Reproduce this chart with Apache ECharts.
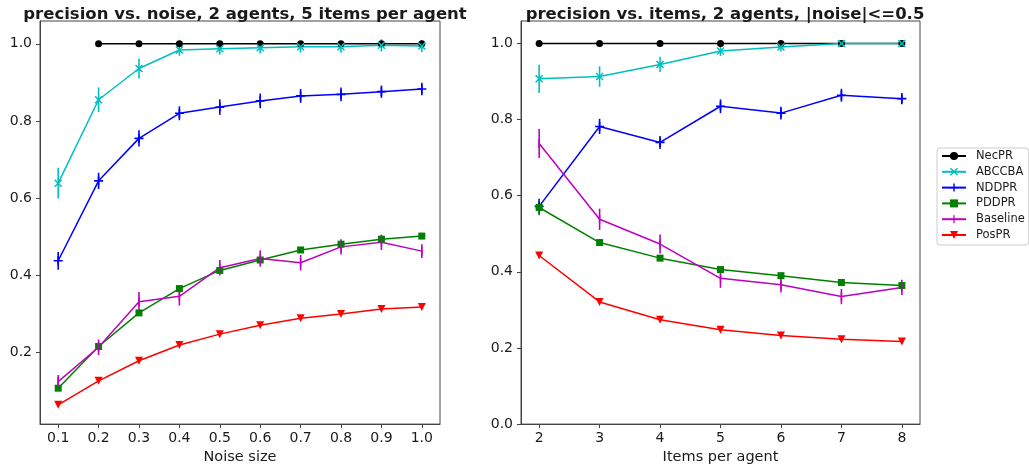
<!DOCTYPE html>
<html><head><meta charset="utf-8">
<script src="https://cdn.jsdelivr.net/npm/echarts@6/dist/echarts.min.js"></script>
<style>html,body{margin:0;padding:0;background:#fff}#c{width:1029px;height:470px}</style>
</head><body><div id="c"></div>
<script>
// ---------- data ----------
const seriesNames = ['NecPR','ABCCBA','NDDPR','PDDPR','Baseline','PosPR'];

// left panel: precision vs noise
const noiseX = [0.1,0.2,0.3,0.4,0.5,0.6,0.7,0.8,0.9,1.0];
const noiseNecPR    = [null,1,1,1,1,1,1,1,1,1];
const noiseNecPRErr = [0,0,0,0,0,0,0,0,0,0];
const noiseABCCBA    = [0.639,0.855,0.936,0.984,0.987,0.990,0.992,0.992,0.996,0.994];
const noiseABCCBAErr = [0.040,0.032,0.026,0.015,0.015,0.015,0.015,0.015,0.016,0.015];
const noiseNDDPR    = [0.438,0.645,0.755,0.820,0.836,0.852,0.865,0.869,0.876,0.883];
const noiseNDDPRErr = [0.023,0.021,0.021,0.018,0.020,0.019,0.018,0.018,0.016,0.016];
const noisePDDPR    = [0.108,0.216,0.303,0.366,0.413,0.440,0.466,0.481,0.494,0.502];
const noisePDDPRErr = [0.005,0.005,0.005,0.005,0.005,0.005,0.005,0.005,0.005,0.005];
const noiseBaseline    = [0.125,0.214,0.332,0.346,0.420,0.444,0.433,0.474,0.486,0.463];
const noiseBaselineErr = [0.017,0.020,0.025,0.024,0.020,0.021,0.020,0.020,0.020,0.018];
const noisePosPR    = [0.065,0.127,0.179,0.220,0.248,0.271,0.289,0.300,0.313,0.318];
const noisePosPRErr = [0.004,0.004,0.004,0.004,0.004,0.004,0.004,0.004,0.004,0.004];

// right panel: precision vs items
const itemsX = [2,3,4,5,6,7,8];
const itemsNecPR    = [1,1,1,1,1,1,1];
const itemsNecPRErr = [0,0,0,0,0,0,0];
const itemsABCCBA    = [0.907,0.913,0.945,0.980,0.991,1.0,1.0];
const itemsABCCBAErr = [0.037,0.027,0.020,0.013,0.012,0.002,0.002];
const itemsNDDPR    = [0.572,0.782,0.740,0.835,0.817,0.864,0.855];
const itemsNDDPRErr = [0.020,0.020,0.017,0.018,0.017,0.017,0.015];
const itemsPDDPR    = [0.569,0.477,0.436,0.406,0.390,0.372,0.364];
const itemsPDDPRErr = [0.020,0.005,0.005,0.005,0.005,0.005,0.005];
const itemsBaseline    = [0.737,0.538,0.473,0.383,0.366,0.335,0.359];
const itemsBaselineErr = [0.038,0.028,0.025,0.025,0.020,0.020,0.020];
const itemsPosPR    = [0.443,0.321,0.274,0.248,0.233,0.223,0.217];
const itemsPosPRErr = [0.005,0.005,0.005,0.005,0.005,0.005,0.005];

const noiseTicks = [0.1,0.2,0.3,0.4,0.5,0.6,0.7,0.8,0.9,1.0];
const itemsTicks = [2,3,4,5,6,7,8];
const leftYTicks = [0.2,0.4,0.6,0.8,1.0];
const rightYTicks = [0.0,0.2,0.4,0.6,0.8,1.0];

// ---------- styles ----------
const colors = {NecPR:'#000000', ABCCBA:'#00BFBF', NDDPR:'#0000FF', PDDPR:'#008000', Baseline:'#BF00BF', PosPR:'#FF0000'};
const PLUS = 'path://M4.1,0H5.9V4.1H10V5.9H5.9V10H4.1V5.9H0V4.1H4.1Z';
const XMARK = 'path://M0,1.3L1.3,0L5,3.7L8.7,0L10,1.3L6.3,5L10,8.7L8.7,10L5,6.3L1.3,10L0,8.7L3.7,5Z';
const TRI_DOWN = 'path://M0,0L10,0L5,9Z';
const VBAR = 'path://M0,0L0.01,0L0.01,0.01ZM10,10L9.99,10L9.99,9.99ZM4.2,0H5.8V10H4.2Z';
const symbols = {NecPR:['circle',7], ABCCBA:[XMARK,8], NDDPR:[PLUS,9], PDDPR:['rect',7], Baseline:[VBAR,9], PosPR:[TRI_DOWN,8]};

const leftData = {NecPR:[noiseNecPR,noiseNecPRErr], ABCCBA:[noiseABCCBA,noiseABCCBAErr], NDDPR:[noiseNDDPR,noiseNDDPRErr], PDDPR:[noisePDDPR,noisePDDPRErr], Baseline:[noiseBaseline,noiseBaselineErr], PosPR:[noisePosPR,noisePosPRErr]};
const rightData = {NecPR:[itemsNecPR,itemsNecPRErr], ABCCBA:[itemsABCCBA,itemsABCCBAErr], NDDPR:[itemsNDDPR,itemsNDDPRErr], PDDPR:[itemsPDDPR,itemsPDDPRErr], Baseline:[itemsBaseline,itemsBaselineErr], PosPR:[itemsPosPR,itemsPosPRErr]};

const txt = '#1a1a1a', axc = '#444';
const FONT = 'DejaVu Sans';

function errRender(color){
  return function(params, api){
    const x = api.value(0), y = api.value(1), e = api.value(2);
    const p1 = api.coord([x, y + e]), p2 = api.coord([x, y - e]);
    return {type:'line', shape:{x1:p1[0], y1:p1[1], x2:p2[0], y2:p2[1]}, style:{stroke:color, lineWidth:1.6}};
  };
}

const series = [];
function addPanel(xs, dataMap, idx){
  seriesNames.forEach(name => {
    const [vals, errs] = dataMap[name];
    const pts = [], ebs = [];
    xs.forEach((x,i) => { if (vals[i] != null) { pts.push([x, vals[i]]); ebs.push([x, vals[i], errs[i]]); } });
    series.push({
      name, type:'line', xAxisIndex:idx, yAxisIndex:idx, data:pts,
      symbol:symbols[name][0], symbolSize:symbols[name][1], showSymbol:true,
      lineStyle:{color:colors[name], width:1.5}, itemStyle:{color:colors[name]},
      emphasis:{disabled:true}, z:2
    });
    series.push({
      name:name+' err', type:'custom', xAxisIndex:idx, yAxisIndex:idx, data:ebs,
      renderItem:errRender(colors[name]), encode:{x:0, y:1}, z:2, silent:true
    });
  });
}
addPanel(noiseX, leftData, 0);
addPanel(itemsX, rightData, 1);

function xAxis(idx, min, max, ticks, name, fmt){
  return {type:'value', gridIndex:idx, min, max, name, nameLocation:'middle', nameGap:23,
    nameTextStyle:{color:txt, fontSize:14.5, fontFamily:FONT},
    axisLine:{show:true, lineStyle:{color:axc, width:1}},
    axisTick:{show:true, length:4, lineStyle:{color:axc}, customValues:ticks},
    axisLabel:{color:txt, fontSize:14, fontFamily:FONT, margin:7, customValues:ticks, formatter:fmt},
    splitLine:{show:false}};
}
function yAxis(idx, min, max, ticks){
  return {type:'value', gridIndex:idx, min, max,
    axisLine:{show:true, lineStyle:{color:axc, width:1}},
    axisTick:{show:true, length:4, lineStyle:{color:axc}, customValues:ticks},
    axisLabel:{color:txt, fontSize:14, fontFamily:FONT, margin:8, customValues:ticks, formatter:v => v.toFixed(1)},
    splitLine:{show:false}};
}

const chart = echarts.init(document.getElementById('c'), null, {renderer:'canvas'});
chart.setOption({
  animation:false,
  backgroundColor:'#fff',
  title:[
    {text:'precision vs. noise, 2 agents, 5 items per agent', left:240, top:1, textAlign:'center',
     textStyle:{fontFamily:FONT, fontWeight:'bold', fontSize:16.5, color:txt}},
    {text:'precision vs. items, 2 agents, |noise|<=0.5', left:720, top:1, textAlign:'center',
     textStyle:{fontFamily:FONT, fontWeight:'bold', fontSize:16.5, color:txt}}
  ],
  grid:[
    {left:40, top:21, width:400, height:408, show:true, borderColor:axc, borderWidth:1, backgroundColor:'transparent'},
    {left:521, top:21, width:399, height:408, show:true, borderColor:axc, borderWidth:1, backgroundColor:'transparent'}
  ],
  xAxis:[
    xAxis(0, 0.055, 1.045, noiseTicks, 'Noise size', v => v.toFixed(1)),
    xAxis(1, 1.7, 8.3, itemsTicks, 'Items per agent', v => String(v))
  ],
  yAxis:[
    yAxis(0, 0.015, 1.059, leftYTicks),
    yAxis(1, 0, 1.059, rightYTicks)
  ],
  legend:{
    data:seriesNames, orient:'vertical', left:937, top:148,
    itemWidth:24, itemHeight:10, itemGap:1.8,
    padding:[1,4,3,4], borderColor:'#ccc', borderWidth:1, borderRadius:3,
    textStyle:{fontFamily:FONT, fontSize:11.5, color:txt, lineHeight:14, padding:[0,0,0,5]},
    selectedMode:false
  },
  series
});
</script></body></html>
